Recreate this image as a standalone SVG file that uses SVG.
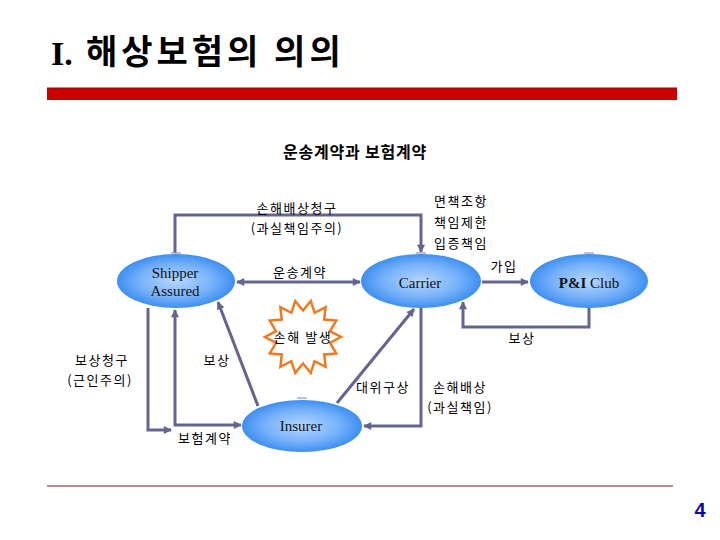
<svg xmlns="http://www.w3.org/2000/svg" width="720" height="540" viewBox="0 0 720 540">
<defs>
<radialGradient id="blue" cx="50%" cy="50%" r="55%">
<stop offset="0%" stop-color="#b4d6ff"/>
<stop offset="55%" stop-color="#78b2fa"/>
<stop offset="100%" stop-color="#2f86ee"/>
</radialGradient>
<marker id="arr" viewBox="0 0 10 10" refX="9" refY="5" markerWidth="9" markerHeight="8" markerUnits="userSpaceOnUse" orient="auto-start-reverse">
<path d="M0,0 L10,5 L0,10 z" fill="#64648f"/>
</marker>
<style>
.k{font-family:"Noto Sans CJK KR","Noto Sans",sans-serif;font-size:13px;letter-spacing:1.5px;fill:#000;text-anchor:middle}
.kl{font-family:"Noto Sans CJK KR","Noto Sans",sans-serif;font-size:13px;letter-spacing:1.5px;fill:#000}
.e{font-family:"Liberation Serif","Times New Roman",serif;font-size:15px;fill:#111;text-anchor:middle}
.node{fill:url(#blue)}
.tick{stroke:#8a9abf;stroke-width:1.2}
.c{fill:none;stroke:#64648f;stroke-width:3}
</style>
</defs>
<rect width="720" height="540" fill="#fff"/>
<g id="title">
<text x="51" y="65" font-family="'Liberation Serif',serif" font-weight="bold" font-size="34" fill="#000">I.</text>
<text x="86" y="64" font-family="'Noto Sans CJK KR',sans-serif" font-weight="bold" font-size="34" letter-spacing="4" fill="#000">해상보험의 의의</text>
<rect x="47" y="88" width="630" height="12" fill="#cc0000"/>
<line x1="47" y1="88" x2="677" y2="88" stroke="#6a1a1a" stroke-width="1"/>
<text x="355" y="158" font-family="'Noto Sans CJK KR',sans-serif" font-weight="bold" font-size="16" letter-spacing="0.8" fill="#000" text-anchor="middle">운송계약과 보험계약</text>
</g>
<g id="connectors">
<path class="c" d="M175,253 V215 H421 V252" marker-end="url(#arr)"/>
<path class="c" d="M237,282 H360" marker-start="url(#arr)" marker-end="url(#arr)"/>
<path class="c" d="M482,282 H528" marker-end="url(#arr)"/>
<path class="c" d="M589,308 V327 H463 V302" marker-end="url(#arr)"/>
<path class="c" d="M421,308 V426 H364" marker-end="url(#arr)"/>
<path class="c" d="M337,403 L414,309" marker-end="url(#arr)"/>
<path class="c" d="M258,406 L218,302" marker-end="url(#arr)"/>
<path class="c" d="M148,308 V430 H171" marker-end="url(#arr)"/>
<path class="c" d="M175,310 V425 H241" marker-start="url(#arr)" marker-end="url(#arr)"/>
</g>
<g id="shipper">
<ellipse class="node" cx="176" cy="281" rx="59" ry="27"/>
<line class="tick" x1="171" y1="253" x2="181" y2="253"/>
<text class="e" x="175" y="278">Shipper</text>
<text class="e" x="175" y="296">Assured</text>
</g>
<g id="carrier">
<ellipse class="node" cx="421" cy="281" rx="60" ry="27"/>
<line class="tick" x1="416" y1="253" x2="426" y2="253"/>
<text class="e" x="420" y="288">Carrier</text>
</g>
<g id="pni">
<ellipse class="node" cx="589" cy="281" rx="59" ry="27"/>
<line class="tick" x1="584" y1="253" x2="594" y2="253"/>
<text class="e" x="589" y="288"><tspan font-weight="bold">P&amp;I</tspan> Club</text>
</g>
<g id="insurer">
<ellipse class="node" cx="302" cy="426" rx="60" ry="26"/>
<line class="tick" x1="297" y1="398" x2="307" y2="398"/>
<text class="e" x="301" y="431">Insurer</text>
</g>
<g id="loss">
<polygon fill="#fff" stroke="#ef7a22" stroke-width="2.5" points="341.0,337.0 330.0,342.8 336.3,353.5 324.2,354.5 325.6,366.8 314.6,361.2 310.8,373.0 303.0,363.5 295.2,373.0 291.4,361.2 280.4,366.8 281.8,354.5 269.7,353.5 276.0,342.8 265.0,337.0 276.0,331.2 269.7,320.5 281.8,319.5 280.4,307.2 291.4,312.8 295.2,301.0 303.0,310.5 310.8,301.0 314.6,312.8 325.6,307.2 324.2,319.5 336.3,320.5 330.0,331.2"/>
<text class="k" x="303" y="342" letter-spacing="0.5">손해 발생</text>
</g>
<g id="labels">
<text class="k" x="297" y="213">손해배상청구</text>
<text class="k" x="297" y="233">(과실책임주의)</text>
<text class="kl" x="434" y="206">면책조항</text>
<text class="kl" x="434" y="227">책임제한</text>
<text class="kl" x="434" y="248">입증책임</text>
<text class="k" x="300" y="277">운송계약</text>
<text class="k" x="504" y="271">가입</text>
<text class="k" x="522" y="343">보상</text>
<text class="k" x="102" y="365">보상청구</text>
<text class="k" x="100" y="385">(근인주의)</text>
<text class="k" x="217" y="365">보상</text>
<text class="k" x="383" y="392">대위구상</text>
<text class="k" x="460" y="392">손해배상</text>
<text class="k" x="460" y="412">(과실책임)</text>
<text class="k" x="205" y="443">보험계약</text>
</g>
<g id="footer">
<line x1="47" y1="486" x2="673" y2="486" stroke="#7a1a1a" stroke-width="1.2"/>
<text x="700" y="517" font-family="'Liberation Sans',Arial,sans-serif" font-weight="bold" font-size="20" fill="#0a0a9a" text-anchor="middle">4</text>
</g>
</svg>
